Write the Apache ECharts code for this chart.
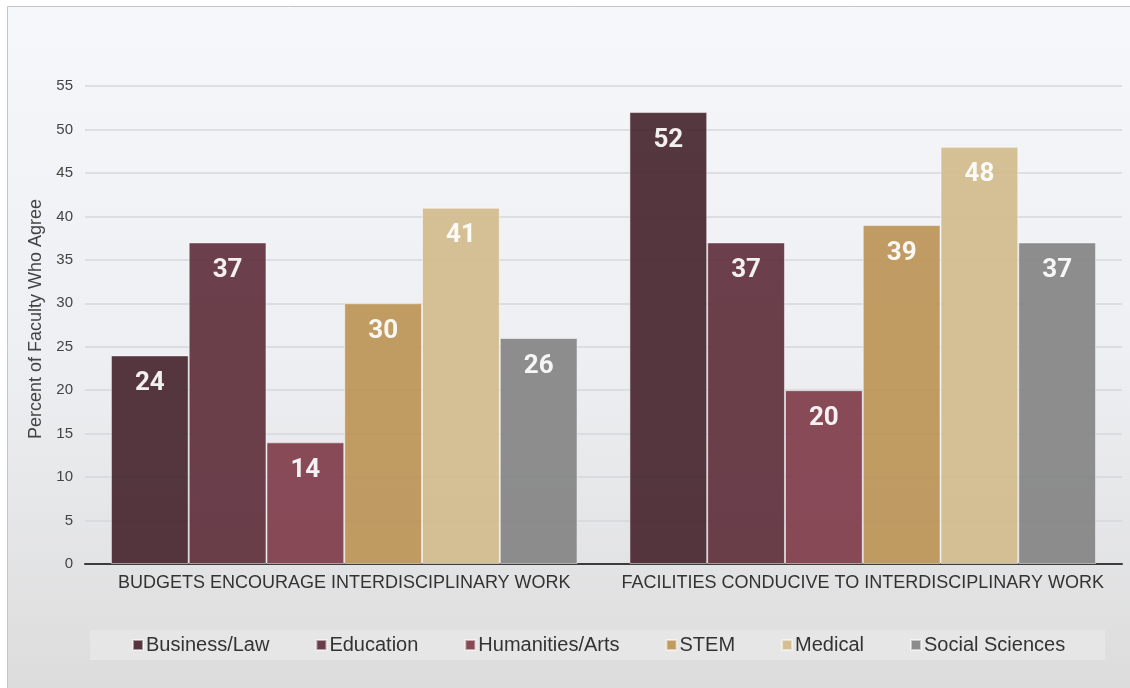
<!DOCTYPE html>
<html lang="en">
<head>
<meta charset="UTF-8">
<title>Percent of Faculty Who Agree</title>
<script src="https://cdn.jsdelivr.net/npm/echarts@6/dist/echarts.min.js"></script>
<style>
  html, body { margin: 0; padding: 0; background: #fff; }
  #main { width: 1130px; height: 688px; }
</style>
</head>
<body>
<div id="main"></div>
<script>
var categories = ['BUDGETS ENCOURAGE INTERDISCIPLINARY WORK', 'FACILITIES CONDUCIVE TO INTERDISCIPLINARY WORK'];
var seriesNames = ['Business/Law', 'Education', 'Humanities/Arts', 'STEM', 'Medical', 'Social Sciences'];
var businessLaw = [24, 52];
var education = [37, 37];
var humanitiesArts = [14, 20];
var stem = [30, 39];
var medical = [41, 48];
var socialSciences = [26, 37];
var colors = ['#48262f', '#60303c', '#803c4b', '#bc9456', '#d2bc8d', '#848484'];

var values = [businessLaw, education, humanitiesArts, stem, medical, socialSciences];

var chart = echarts.init(document.getElementById('main'));

var series = seriesNames.map(function (name, i) {
  return {
    name: name,
    type: 'bar',
    data: values[i],
    barGap: '0%',
    barCategoryGap: '10%',
    itemStyle: {
      color: colors[i],
      opacity: 0.92,
      borderColor: 'rgba(255,255,255,0.55)',
      borderWidth: 1
    },
    label: {
      show: true,
      position: 'insideTop',
      distance: 15,
      color: '#fff',
      fontFamily: 'Roboto',
      fontWeight: 'bold',
      fontSize: 26
    }
  };
});

var option = {
  backgroundColor: '#fff',
  color: colors,
  animation: false,
  graphic: [{
    type: 'rect',
    z: -10,
    silent: true,
    shape: { x: 7.5, y: 6.5, width: 1200, height: 700 },
    style: {
      fill: {
        type: 'linear', x: 0, y: 0, x2: 0, y2: 1,
        colorStops: [
          { offset: 0, color: '#f6f7fb' },
          { offset: 0.5, color: '#eeeff2' },
          { offset: 1, color: '#dbdbdb' }
        ]
      },
      stroke: '#c6c6c6',
      lineWidth: 1
    }
  }],
  grid: {
    left: 85,
    right: 8,
    top: 86,
    bottom: 124
  },
  legend: {
    data: seriesNames,
    left: 90,
    top: 630,
    padding: [5, 40, 5, 42],
    backgroundColor: '#e6e6e6',
    icon: 'rect',
    itemWidth: 10,
    itemHeight: 10,
    itemGap: 46,
    textStyle: {
      fontFamily: '"Liberation Sans"',
      fontSize: 20,
      color: '#333',
      padding: [0, 0, 0, -2]
    }
  },
  xAxis: {
    type: 'category',
    data: categories,
    axisTick: { show: false },
    axisLine: { lineStyle: { color: '#3c3c3c', width: 2 } },
    axisLabel: {
      interval: 0,
      color: '#333',
      fontFamily: '"Liberation Sans"',
      fontSize: 18,
      margin: 10
    }
  },
  yAxis: {
    type: 'value',
    min: 0,
    max: 55,
    interval: 5,
    name: 'Percent of Faculty Who Agree',
    nameLocation: 'middle',
    nameGap: 35,
    nameTextStyle: {
      color: '#444',
      fontFamily: '"Liberation Sans"',
      fontSize: 18,
      padding: [0, 0, 0, 12]
    },
    axisLabel: {
      color: '#444',
      fontFamily: '"Liberation Sans"',
      fontSize: 15,
      margin: 12
    },
    splitLine: { lineStyle: { color: '#d6d7db', width: 1.5 } }
  },
  series: series
};

chart.setOption(option);
</script>
</body>
</html>
